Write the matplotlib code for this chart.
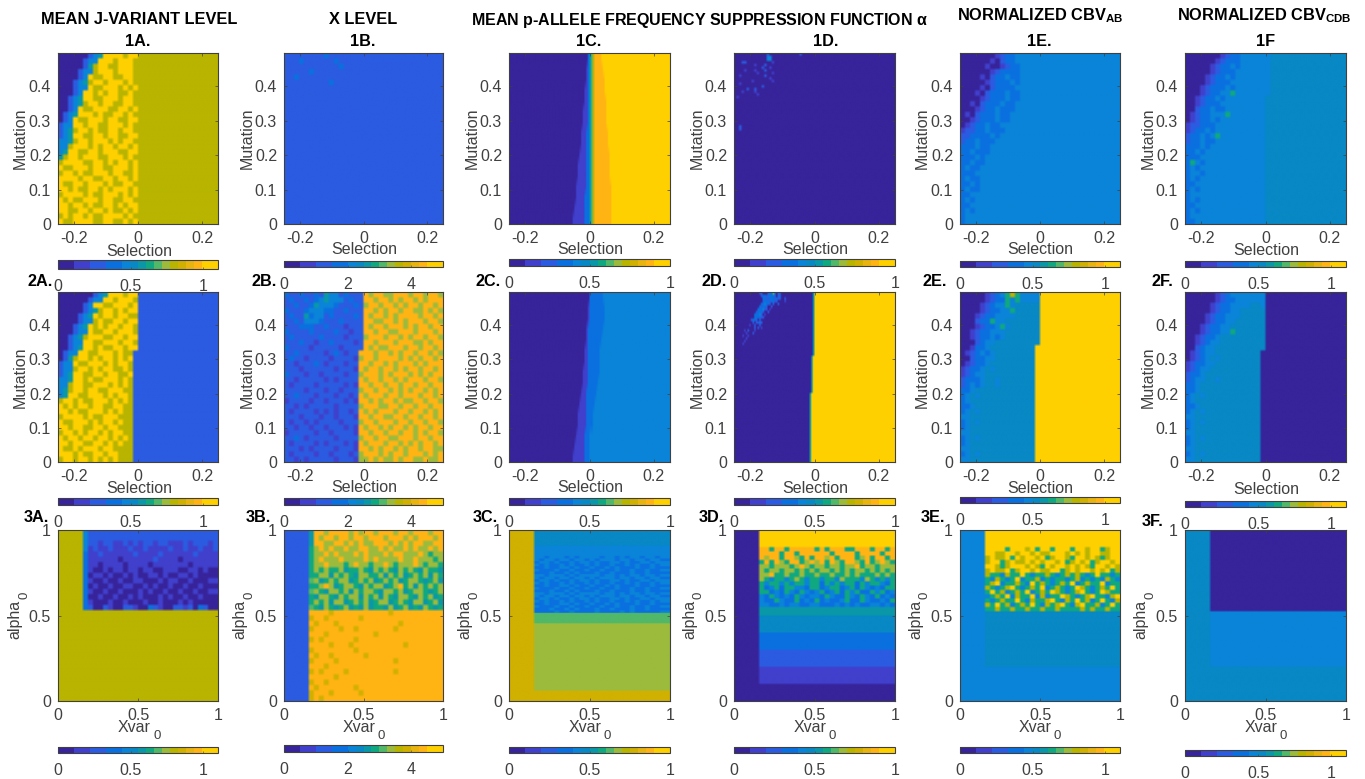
import re
import numpy as np
from matplotlib import pyplot as plt
from matplotlib.colors import ListedColormap

plt.rcParams['font.family'] = ['Liberation Sans', 'DejaVu Sans']
plt.rcParams['mathtext.fontset'] = 'custom'
plt.rcParams['mathtext.rm'] = 'Liberation Sans'
plt.rcParams['mathtext.bf'] = 'Liberation Sans:bold'
plt.rcParams['mathtext.it'] = 'DejaVu Serif:italic'
plt.rcParams['mathtext.default'] = 'regular'

W, H = 1365, 779
GRAY = '#404040'

# colour scale as it looks on the colour bars, 20 steps
BAR_COLORS = ['#37239a', '#37239a', '#4040cc', '#4040cc', '#2b5be0', '#2b5be0', '#0a70e0', '#0a70e0',
              '#0a84d8', '#0888c4', '#0a98a8', '#10a880', '#50b868', '#9cbb3c', '#b8b400', '#d0b000',
              '#e8b410', '#ffb414', '#ffd000', '#ffd000']

# level letters used in the grids below, as a fraction of the colour scale
LEVELS = {'a': 0.05, 'b': 0.15, 'c': 0.25, 'd': 0.35, 'e': 0.425, 'f': 0.475, 'g': 0.525, 'h': 0.575,
          'i': 0.625, 'j': 0.675, 'k': 0.725, 'l': 0.775, 'm': 0.825, 'n': 0.875, 'o': 0.95}

# panels, top row of the picture first: letter + optional repeat count, a short row goes on with its last letter
P1A = ["aaaa aace gooo okoo k", "aaaa acee oook oook k", "aaaa acgk ookk oook k", "aaaa ceek oook oook k",
       "aaaa ceok kook kook k", "aaac egko okoo okok k", "aaac eeok kooo koko k", "aaac eook okoo kkok k",
       "aace gook kooo kook k", "aace gkoo kook kook k", "aace okko ookk ooko k", "aceg oook okko okok k",
       "aceo kkoo okoo kkoo k", "ceeo okoo kkoo okok k", "cegk ooko kkoo kook k", "cego okko okoo kkoo k",
       "eegk ooko ooko kook k", "eeko ooko kook ooko k", "egoo kkoo kooo kkoo k", "gkoo kooo kkoo okok k",
       "kooo okko okok ooko k", "okko ooko okko ooko k", "kook okko ooko okko k", "oooo kook kook ooko k",
       "okko okoo okok kook k", "ooko kkoo koko ooko k", "kooo okok kooo koko k", "okok kooo kook kook k",
       "ooko okok kook okoo k", "ookk ooko okok koko k", "koko okok kooo okok k", "okko oook kook koko k"]

P1B = ["c8 d c", "c3 d c6 d c", "c11 d c", "c5 d c", "c2 d c", "c9 d c"] + ["c"] * 26

P1C = ["a47 d1 g i l n4 o", "a46 b1 d1 g i l n5 o", "a46 b1 d1 g i l n6 o", "a45 b2 d1 g i l n6 o",
       "a45 b2 d1 g i l n7 o", "a44 b3 d1 g i l n7 o", "a44 b3 d1 g i l n7 o", "a43 b3 d2 g i l n8 o",
       "a43 b3 d2 g i l n8 o", "a42 b4 d2 g i l n9 o", "a41 b5 d2 g i l n9 o", "a41 b5 d2 g i l n9 o",
       "a40 b6 d2 g i l n10 o", "a40 b5 d3 g i l n10 o", "a39 b6 d3 g i l n10 o", "a38 b7 d3 g i l n10 o"]

P1D = ["a13 c1 a12 c1 a", "a13 e2 a", "a13 e2 a", "a3 c2 a10 b1 a", "a8 b1 a3 c1 a", "a11 c1 a2 b1 a",
       "a4 b1 a3 b1 a3 c1 a", "a9 b1 a5 b1 a", "a2 b1 a9 c1 a", "a14 b1 a", "a7 b1 a7 b1 a", "a2 b1 a",
       "a11 c1 a", "a5 c1 a2 c1 a", "a3 b1 a4 b1 a", "a9 b1 a", "a1 b1 a", "a", "a", "a", "a",
       "a", "a", "a", "a", "a", "a"] + ["a2 c1 a"] * 2 + ["a"] * 35

P1E = ["aaaa aaab cdde e", "aaaa aaba cdd e", "aaaa abaa bcdd e", "aaaa aabc dddd e", "aaaa bacd dedd e",
       "aaaa abcd dded e", "aaaa bacd ddd e", "aaab acdd dedd e", "aaaa bcdd dedd e", "aaba cddd edd e",
       "aaab cdde ddd e", "abac ddde dd e", "aabc ddde dd e", "abcd dedd e", "bccd dedd de", "ccdd ddede",
       "cdde ddde", "ddde dde", "ddedd de", "ddde dee", "dded de", "dedd e", "ddd e", "dedd e",
       "dded e", "ded de", "ddee", "ded ee", "ddee", "dede", "dee", "de"]

P1F = ["aaaa aaab cdde e5 f", "aaaa aabc ddde e5 f", "aaaa abcd dede e5 f", "aaaa abcd ddee e5 f",
       "aaaa bcdd edee e5 f", "aaaa bcdd deee e5 f", "aaab cddd edee e5 f", "aaab cdde ehee e5 f",
       "aabc dded eeee e4 f", "aabc ddde eeee e4 f", "aacd dedd eeee e4 f", "abcd deee heee e4 f",
       "abcd dede eeee e4 f", "bccd ddee eeee e4 f", "bcdd edee eeee e4 f", "cdde dehe eeee e4 f",
       "cdde ddee eeee e4 f", "ddde deee eeee e4 f", "dded e12 f", "ddde e12 f", "dhed e12 f", "dede e12 f",
       "deed e12 f", "dede e12 f", "ddee e12 f", "dede e12 f", "deee e12 f", "dede e12 f", "ddee e12 f",
       "dede e12 f", "deee e12 f", "ddee e12 f"]

P2A = ["aaaa aaac egoo okoo c", "aaaa aace eook oook c", "aaaa aceo okko ooko c", "aaaa aceg kook okoo c",
       "aaaa cego kook ookk c", "aaaa ceek okko okoo c", "aaac egok okoo kook c", "aaac eeok kook oook c",
       "aace gkoo okko okoo c", "aace eook kooo kook c", "aace gook okko okoo c", "acee ookk oook okk c",
       "acgk ooko kook oko c", "ceeo kkoo okok ook c", "ceek ooko kook kok c", "cego okko okoo kko c",
       "eego okok kooo kok c", "eeko okko ooko kok c", "egko okoo kkoo okk c", "egoo kkoo okok ook c",
       "kook okko ooko kok c", "okok ooko okko okk c", "ooko kkoo okok okk c", "kooo okok kooo kkk c",
       "okko ooko kook okk c", "ooko okko okoo kkk c", "kook okoo koko okk c", "okoo kook ooko kok c",
       "ooko okko okok okk c", "okko kooo kook kkk c", "oook okko okoo kkk c", "kook ooko koko kkk c"]

P2B = ["dccd ccdc geec dccc njnn jjnn njnn jnnj", "cdcc dcde geee cdcc nnjn njnj nnjn jnnn",
       "ccdc cdge eedc ccdc jnnj nnjn jnnj nnjn", "dccc deee ddcc dccc nnjn jnnj nnjj njnj",
       "cdcc gdee cdcc ccdc njnn jnjn nnnj nnjn", "ccdc eeed cccd cccc nnjj nnjn jnnn jnnj",
       "cccd ddcc dccc bccc njnn jnnn jnjn njnn", "dccc cdcc ccdc cbcc nnjn njjn nnjn nnjn",
       "cdcc cccd cccc bccc jnnn jnnj njnn jnnj", "cccd ccbc cdcc ccbc nnjn nnjn nnjj njnn",
       "dccc cbcc cccb cccc njnj jnnn jnnj nnjn", "ccdc cccc bcdc bcc n nnjn njnj nnjn njnj",
       "cdcc bccc cbcc ccb j nnjn nnnj njnj nnjn", "ccbc ccdc bccc bcc n njnn jnjn nnjn jnnn",
       "cccb cccc ccbc ccb n jnnj nnjn jnnj nnjn", "dccc bccb cccc bcc j nnnj njnn njnj njnn",
       "ccbc cccc bcbc ccc n jnnj nnjn jnnn jnnj", "cbcc ccbc cccc bcb n njnn jnnj nnjn njnn",
       "cccc bccc bccb ccc j nnjn njnj njnn jnjn", "ccdc ccbc ccbc cbc n jnnn jnnj nnnj nnjn",
       "bccc cbcc bccc bcb n njnj nnjn jjnn jnnj", "ccbc bccc ccbc ccc j nnnj jnnj nnjn njnn",
       "cbcc ccbc bcbc cbc n jnjn nnjn njnn jnjn", "cccb cccb ccbc ccb n njnn jjnn jnnj nnjn",
       "cbcc bcbc cccb ccc j nnjn nnjn njnn jnnj", "ccbc cbcc bccc bcb n jnnj njnn jnjn njnn",
       "bccc ccbc cbcc ccb n njnn jnnj nnjn jnnj", "ccdc bccc ccbc ccc j nnjn njjn nnjn njnn",
       "cbcc ccbc bccc bcb n jnnn jnnj njnj nnjn", "cccb cbcc ccbc ccb n njnj nnjn jnnj nnjj",
       "cbcc ccbc cbcc cbc j nnnj njnn jnnn jnjn", "ccbc bccc ccbc ccb j jnjn jjnj nnjj njjn"]

P2C = ["a48 d8 e", "a47 b1 d9 e", "a47 b1 d9 e", "a46 b1 d9 e", "a46 b1 d8 e", "a45 b2 d7 e", "a45 b2 d7 e",
       "a44 b3 d7 e", "a44 b3 d6 e", "a43 b3 d6 e", "a42 b4 d5 e", "a41 b5 d4 e", "a41 b5 d4 e", "a40 b5 d3 e",
       "a39 b6 d3 e", "a38 b7 d3 e"]

P2D = ["a15 c2 a3 c1 d2 i1 d1 a1 c2 a19 g1 o", "a16 c1 d2 c1 d4 c1 a1 c1 d1 a19 g1 o",
       "a17 d2 c2 d3 c1 d1 c2 a2 c1 a16 g1 o", "a17 c1 d3 c1 d2 c2 a4 b1 a16 g1 o",
       "a16 d2 e1 d2 c1 a1 c1 a2 c1 a20 g1 o", "a15 d1 c1 d2 c1 a2 c1 a24 g1 o",
       "a14 d3 e1 c2 a1 b1 a25 g1 o", "a13 c1 d3 c1 a2 c1 a26 g1 o", "a12 d3 e1 c1 a1 b1 a28 g1 o",
       "a12 d4 c2 a29 g1 o", "a10 c1 d2 c1 a1 c1 a31 g1 o", "a11 c1 a1 c2 d1 c1 a30 g1 o",
       "a9 b1 a2 c1 a2 c1 a31 g1 o", "a12 c1 a1 c1 a1 b1 a30 g1 o", "a6 b1 a1 c1 a3 b1 a34 g1 o",
       "a7 b1 a3 c1 a35 g1 o", "a5 b1 a2 b1 a38 g1 o", "a7 b1 a39 g1 o", "a6 b1 a40 g1 o", "a5 b1 a41 g1 o",
       "a47 g1 o"] + ["a47 g1 o"] * 3 + ["a46 g1 o"] * 14 + ["a45 g1 o"] * 26

P2E = ["aaaa abcd ehkh eeee o", "aaaa abcd dheh eeee o", "aaaa bcde ehef ffff o", "aaaa bcdd eehf ffff o",
       "aaab cdde eeef ffff o", "aaac ddhe efff ffff o", "aaab cdde heff ffff o", "aabc ddee efff ffff o",
       "aabc dded efff ffff o", "aaac deef ffff ffff o", "aabd deff ffff fff o", "abcd edef ffff fff o",
       "aacd deef ffff fff o", "abcd deff ffff fff o", "bcdd efef ffff fff o", "bcde efff ffff fff o",
       "cddd effe ffff fff o", "cded effe ffff fff o", "ddef f11 o", "defe f11 o", "deff f11 o", "ddef f11 o",
       "defe f11 o", "eeff f11 o", "defe f11 o", "deff f11 o", "eeff f11 o", "defe f11 o", "deff f11 o",
       "eeff f11 o", "defe f11 o", "eeff f11 o"]

P2F = ["aaaa aabc deee eeee a", "aaaa aabc ddee eeee a", "aaaa abcd deee effe a", "aaaa abcd deef ffff a",
       "aaaa bcdd eeef ffff a", "aaaa bcdd eeff ffff a", "aaab cdde efff ffff a", "aaab cdde ehff ffff a",
       "aabc ddef ffff ffff a", "aabc deef ffff ffff a", "aacd eeff ffff ffff a", "abcd eeff ffff fff a",
       "abcd efef ffff fff a", "bcdd eeff ffff fff a", "bcde efff ffff fff a", "cdde ffff ffff fff a",
       "cdee ffef ffff fff a", "ddef f11 a", "ddef f11 a", "defe f11 a", "deff f11 a", "ddef f11 a",
       "defe f11 a", "eeff f11 a", "defe f11 a", "deff f11 a", "eeff f11 a", "defe f11 a", "deff f11 a",
       "eeff f11 a", "defe f11 a", "eeff f11 a"]

P3A = ["k5 e c26", "k5 e c26", "k5 e ccbc cbbc bcbc cbcc bbbc bccc bcc", "k5 e bcbb cbbb cbbc bbbb cbbc bbcb bc",
       "k5 d bbcb bbbb bcbb bbcb bbbb bcbb b", "k5 d bbbb bbab bbbb bcbb bbab bbbb b",
       "k5 d bbab bbba bbbb abbb bbbb abbb b", "k5 d baab abba bbab baab bbaa bbab a",
       "k5 d abba baab abaa bbab aabb abaa a", "k5 d baab aaba abba aaba bbaa baaa b",
       "k5 d abaa baab baab abaa baab aaba a", "k5 d baab aaba aaba baab aaba abaa b",
       "k5 d aaba abaa baba aaba baab aaba a", "k5 d baaa baab aaab aaba aaba baaa a",
       "k5 d caac baac cbaa dcba accb cadc a"] + ["k"] * 17

P3B = ["c5 g nnjn nnnj njnn jnnn jnnj nnnj nn", "c5 g njnn jnnj nnjn nnjn nnjn jnnn jn",
       "c5 g nnjj nnjn jnjj nnnj njnj nnjj nn", "c5 h jnjn jjnj jnnj jnjn jjnj njjn jn",
       "c5 h jjnj njjj njnj jjnj nnjj jnjh jj", "c5 h jnjj jnjj jjnj njjj jnjj njjj hj",
       "c5 h jjnj jjhj njjh jjnj hjjj njhj jh", "c5 h jhjh hjgh hjhg jhjh gjhj hgjh hg",
       "c5 h hjjg jhjh gjjh hjgj hjgh jhjg jh", "c5 i jghj hjjg hjhj ghjh jghj jhgh jg",
       "c5 h hjnj ghjj hgjh jjgh jnhj gjhj hj", "c5 i jhgj jhjg jhjj hgjj hjgh jjhg hj",
       "c5 h gjjh gjhj jgjh jgjh gjjh gjhj gh", "c5 h jhjg jjgh jhjg hjjg hjhg jjgh jg",
       "c5 i hgjh ghjg hgjg hhgj ghjg hgjh gh", "c5 n4 l n11 l n", "c5 l n2 l n6 l n", "c5 n l n3 l n12 l n",
       "c5 l n5 l n2 l n7 l n", "c5 n3 l n9 l n", "c5 l n l n6 l n", "c5 n4 l n3 l n10 l n", "c5 l n8 l n",
       "c5 n l n2 l n6 l n", "c5 l n4 l n11 l n", "c5 n3 l n", "c5 l n l n4 l n9 l n", "c5 n5 l n", "c5 l n2 l n",
       "c5 n l n7 l n", "c5 l n3 l n5 l n", "c5 l n l n"]

P3C = ["l5 f"] * 6 + ["l5 e"] * 4 + ["l5 eede eede deee edee dede edee de", "l5 edee deed eede deee deed eede ed",
       "l5 deed edde deed edde eded deed ee", "l5 eded dede dded edde dded edde de",
       "l5 dded deed edde dded eddd edde dd", "l5 eddd edde dded dedd edde dded de",
       "l5 ddde dded eddd edde ddde dded dd"] * 3 + ["l5 dddd edde dddd eddd dede dddd de"] * 1 \
      + ["l5 i"] * 4 + ["l5 j"] * 26 + ["l"] * 4

P3D = ["a5 o", "a5 o", "a5 o", "a5 o", "a5 n nhnn hnnn nnhn hnnn hhnn nhnn hn", "a5 n nnnh nnhn nnnn nhnn nnhn nnnh nn",
       "a5 n jnnh nnjh nhnn jnhn nnhj nhnn hn", "a5 h nhnj hnnh jnjn hnjh nnjh nhjn jh",
       "a5 j jhjj jhjn jhjj hjjh jjnh jjhj jj", "a5 j hjjh jjhj hjhj jhjh jhjj hjhj hj",
       "a5 j jnhh jhhj hhjh hjhh jhjh hhjh jh", "a5 j hehh ehjh ehhe hhej hhhe jheh eh",
       "a5 h ehhe hehh ehhd hehe hhdh ehhe dh", "a5 h dehd hhee dhhd ehhd ehdh eded hh",
       "a5 h hded hedh edeh dehd hehd dheh de", "a5 e dhed edhe deed hedd hedh edhd ed",
       "a5 e ddhe ddhd edhd edde hddh edde dh", "a5 e edde deed deed dded eded deed ed",
       "a5 g", "a5 g"] + ["a5 f"] * 4 + ["a5 d"] * 4 + ["a5 c"] * 4 + ["a5 b"] * 4 + ["a"] * 4

P3E = ["e5 o", "e5 o", "e5 o", "e5 o", "e5 o oooh oook ohoo hooo hook oohk oo", "e5 o okko okoo kokk oook okok ookk oo",
       "e5 k okko hoko okoh kook hook okhk oo", "e5 k oohk okko koko okoh koko hkoo ko",
       "e5 o okhk oook okho kook okok hook ok", "e5 k okko hkoo kokk oohk okoo koko hk",
       "e5 k hhek hhoh ehhk hehk hkhe hohh eh", "e5 h ekhe hoeh hkeh ehhe hkeh ehek he",
       "e5 h koeh hkhe ohkh ehkh oehk hhoe hh", "e5 k hehk oheh khoe hkhe hokh ehkh oh",
       "e5 h ohke hkho ehkh okhe hkoh ehok hh", "e5 e hkho ekhh oeke hhok hehk ohhe ko",
       "e5 h ehkh hohe khhk ohek hohk ehoh ek", "e5 k hohk ehkh ohek hkoh ekoh hkeh oh",
       "e5 h hkhh khhk hhkh hkhh hhkh khhk hh"] + ["e5 f"] * 13 + ["e"] * 8

P3F = ["f5 a"] * 19 + ["f5 e"] * 13 + ["f"] * 8

PANELS = [P1A, P1B, P1C, P1D, P1E, P1F, P2A, P2B, P2C, P2D, P2E, P2F, P3A, P3B, P3C, P3D, P3E, P3F]
PANEL_COLS = [32, 32, 96, 64, 32, 32, 32, 32, 96, 96, 32, 32, 32, 32, 32, 32, 32, 32]
COL_VMAX = [1.1, 5, 1, 1, 1.1, 1.1]
COL_TICKS = [[0, 0.5, 1], [0, 2, 4], [0, 0.5, 1], [0, 0.5, 1], [0, 0.5, 1], [0, 0.5, 1]]

PANEL_NAMES = ['1A.', '1B.', '1C.', '1D.', '1E.', '1F']
ROW_LABELS = [['2A.', '2B.', '2C.', '2D.', '2E.', '2F.'], ['3A.', '3B.', '3C.', '3D.', '3E.', '3F.']]

# layout in picture pixels
AX_X = [(58, 218), (284, 443), (509, 670), (734, 895), (960, 1120), (1185, 1346)]
AX_Y = [(53, 224), (292, 462), (530, 701)]
BAR_Y = [[(260, 269), (261, 267), (259, 266), (259, 266), (261, 267), (261, 267)],
         [(498, 505), (498, 505), (498, 505), (498, 505), (497, 503), (501, 507)],
         [(747, 753), (745, 752), (747, 753), (747, 753), (747, 753), (750, 756)]]
XLAB_Y = [[252, 249, 249, 249, 249, 251], [489, 487, 487, 489, 489, 490], [727, 727, 727, 727, 727, 727]]
XLAB_X = [139, 364, 590, 815, 1040, 1266]
YLAB_X = [[20, 247, 472, 697, 922, 1148], [20, 247, 472, 697, 922, 1148], [15, 240, 465, 690, 916, 1141]]
YLAB_Y = [138, 377, 619]
NAME_X = [138, 363, 589, 826, 1039, 1266]
ROW_LAB_X = [[27, 251, 475, 702, 922, 1152], [24, 246, 473, 699, 921, 1142]]
ROW_LAB_Y = [[281] * 6, [518, 518, 518, 518, 518, 522]]


def px(x, y):
    return x / W, 1 - y / H


def make_axes(xr, yr):
    left, top = px(xr[0], yr[0])
    right, bottom = px(xr[1], yr[1])
    return fig.add_axes([left, bottom, right - left, top - bottom])


def grid(rows, cols):
    out = []
    for r in rows:
        vals = []
        for letter, count in re.findall(r"([a-o])(\d*)", r):
            vals += [LEVELS[letter]] * (int(count) if count else 1)
        vals += [vals[-1]] * cols
        out.append(vals[:cols])
    out = np.array(out)
    # coarse grids: keep the cells, soften only their edges when drawn
    if cols == 32:
        out = np.repeat(np.repeat(out, 2, axis=0), 2, axis=1)
    return out


def fmt(v):
    return '%g' % v


fig = plt.figure(figsize=(W / 100, H / 100), dpi=100)
cmap = ListedColormap(BAR_COLORS)

for i, rows in enumerate(PANELS):
    r, c = i // 6, i % 6
    ax = make_axes(AX_X[c], AX_Y[r])
    vmax = COL_VMAX[c]
    if r < 2:
        extent = [-0.25, 0.25, 0, 0.497]
    else:
        extent = [0, 1, 0, 1]
    im = ax.imshow(grid(rows, PANEL_COLS[i]) * vmax, cmap=cmap, vmin=0, vmax=vmax, origin='upper',
                   extent=extent, aspect='auto', interpolation='bilinear', interpolation_stage='rgba')
    if r < 2:
        ax.set_xticks([-0.2, 0, 0.2], ['-0.2', '0', '0.2'])
        ax.set_yticks([0, 0.1, 0.2, 0.3, 0.4], ['0', '0.1', '0.2', '0.3', '0.4'])
    else:
        ax.set_xticks([0, 0.5, 1], ['0', '0.5', '1'])
        ax.set_yticks([0, 0.5, 1], ['0', '0.5', '1'])
    ax.tick_params(direction='in', length=2, width=0.5, color=GRAY, labelcolor=GRAY, labelsize=11.5,
                   top=True, right=True, pad=5)
    for s in ax.spines.values():
        s.set_linewidth(0.8)
        s.set_color(GRAY)

    x, y = px(XLAB_X[c], XLAB_Y[r][c])
    if r < 2:
        fig.text(x, y, 'Selection', ha='center', va='center', fontsize=11.5, color=GRAY)
    else:
        fig.text(x + 12 / W, y, 'Xvar', ha='right', va='center', fontsize=11.5, color=GRAY)
        fig.text(x + 14 / W, y - 9 / H, '0', ha='left', va='center', fontsize=9.5, color=GRAY)
    x, y = px(YLAB_X[r][c], YLAB_Y[r])
    if r < 2:
        fig.text(x, y, 'Mutation', ha='center', va='center', rotation=90, fontsize=11.5, color=GRAY)
    else:
        fig.text(x, y, 'alpha', ha='center', va='center', rotation=90, fontsize=11.5, color=GRAY)
        fig.text(x + 9 / W, y + 24 / H, '0', ha='center', va='center', rotation=90, fontsize=9.5, color=GRAY)

    # horizontal colour bar under each panel
    cax = make_axes(AX_X[c], BAR_Y[r][c])
    cb = fig.colorbar(im, cax=cax, orientation='horizontal')
    cb.set_ticks(COL_TICKS[c], labels=[fmt(v) for v in COL_TICKS[c]])
    cax.tick_params(direction='in', length=1.5, width=0.4, color=GRAY, labelcolor=GRAY, labelsize=11.5, pad=7)
    cb.outline.set_linewidth(0.8)
    cb.outline.set_edgecolor(GRAY)

# bold headers
for c, name in enumerate(PANEL_NAMES):
    x, y = px(NAME_X[c], 42)
    fig.text(x, y, name, ha='center', va='center', fontsize=11.7, fontweight='bold', color='black')

x, y = px(139, 20)
fig.text(x, y, 'MEAN J-VARIANT LEVEL', ha='center', va='center', fontsize=11.8, fontweight='bold')
x, y = px(363, 20)
fig.text(x, y, 'X LEVEL', ha='center', va='center', fontsize=11.8, fontweight='bold')
x, y = px(471, 20)
fig.text(x, y, r'MEAN p-ALLELE FREQUENCY SUPPRESSION FUNCTION $\alpha$', ha='left', va='center',
         fontsize=11.5, fontweight='bold')
x, y = px(957, 16)
fig.text(x, y, r'NORMALIZED CBV$_{\mathbf{AB}}$', ha='left', va='center', fontsize=11.8, fontweight='bold')
x, y = px(1177, 16)
fig.text(x, y, r'NORMALIZED CBV$_{\mathbf{CDB}}$', ha='left', va='center', fontsize=11.8, fontweight='bold')

for r, labels in enumerate(ROW_LABELS):
    for c, lab in enumerate(labels):
        x, y = px(ROW_LAB_X[r][c], ROW_LAB_Y[r][c])
        fig.text(x, y, lab, ha='left', va='center', fontsize=11.7, fontweight='bold')

fig.savefig('out.png', dpi=100)
